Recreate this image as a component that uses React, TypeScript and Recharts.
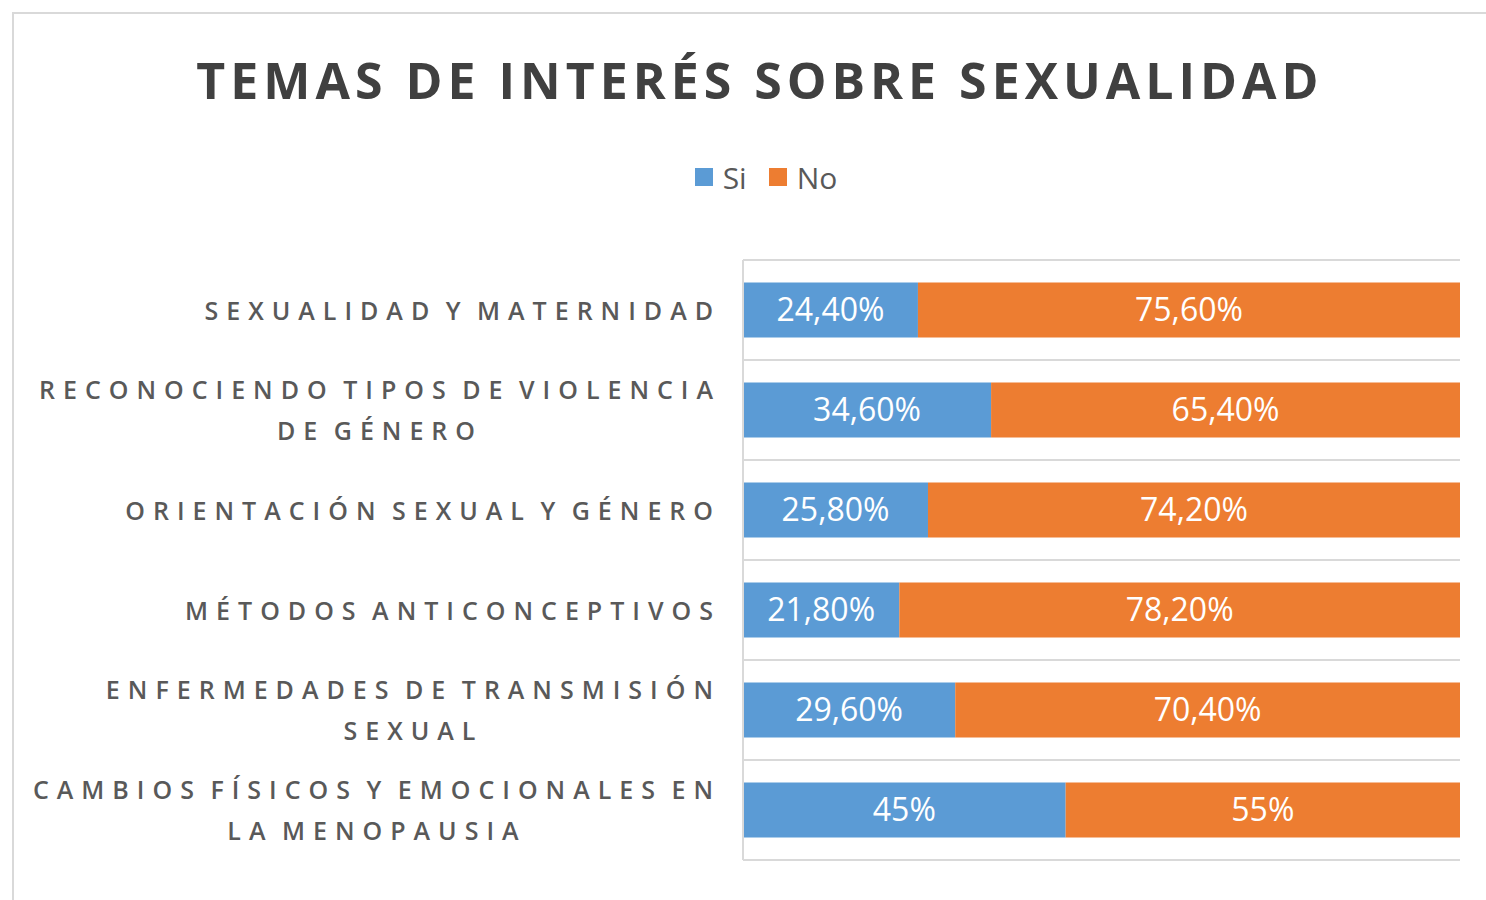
import React from "react"
import { BarChart, Bar, XAxis, YAxis, CartesianGrid, LabelList } from "recharts"

const categories = [
    "SEXUALIDAD Y MATERNIDAD",
    "RECONOCIENDO TIPOS DE VIOLENCIA DE GÉNERO",
    "ORIENTACIÓN SEXUAL Y GÉNERO",
    "MÉTODOS ANTICONCEPTIVOS",
    "ENFERMEDADES DE TRANSMISIÓN SEXUAL",
    "CAMBIOS FÍSICOS Y EMOCIONALES EN LA MENOPAUSIA",
]
const siValues = [24.4, 34.6, 25.8, 21.8, 29.6, 45]
const noValues = [75.6, 65.4, 74.2, 78.2, 70.4, 55]
const seriesNames = ["Si", "No"]

const BLUE = "#5B9BD5"
const ORANGE = "#ED7D31"
const FONT = "'Open Sans', sans-serif"

const data = categories.map((name, i) => ({ name, si: siValues[i], no: noValues[i] }))

// Excel-style percent: "24,40%" but "45%" for whole numbers
const formatPct = (v: number) =>
    Number.isInteger(v) ? `${v}%` : `${v.toFixed(2).replace(".", ",")}%`

function wrapLabel(text: string, maxChars: number) {
    const words = text.split(" ")
    const lines: string[] = []
    let cur = ""
    for (const w of words) {
        const next = cur ? `${cur} ${w}` : w
        if (next.length > maxChars && cur) {
            lines.push(cur)
            cur = w
        } else {
            cur = next
        }
    }
    if (cur) lines.push(cur)
    return lines
}

const CategoryTick = (props: any) => {
    const { x, y, payload } = props
    const lines = wrapLabel(payload.value, 32)
    return (
        <foreignObject x={x - 734} y={y - 50} width={720} height={100}>
            <div style={{ display: "flex", justifyContent: "flex-end", alignItems: "center", height: "100%" }}>
                <div
                    style={{
                        textAlign: "center",
                        fontFamily: FONT,
                        fontWeight: 600,
                        fontSize: 25,
                        letterSpacing: 8,
                        wordSpacing: -6,
                        lineHeight: "41px",
                        color: "#595959",
                        whiteSpace: "nowrap",
                    }}
                >
                    {lines.map((l, i) => <div key={i}>{l}</div>)}
                </div>
            </div>
        </foreignObject>
    )
}

const LegendBox = () => (
    <div
        style={{
            position: "absolute",
            left: 0,
            top: 155,
            width: 1532,
            height: 44,
            display: "flex",
            justifyContent: "center",
            alignItems: "center",
            gap: 22,
            fontFamily: FONT,
            fontSize: 30,
            color: "#595959",
        }}
    >
        {seriesNames.map((n, i) => (
            <div key={n} style={{ display: "flex", alignItems: "center", gap: 10 }}>
                <span style={{ width: 18, height: 18, background: i === 0 ? BLUE : ORANGE, display: "inline-block" }} />
                <span>{n}</span>
            </div>
        ))}
    </div>
)

export default function App() {
    const n = categories.length
    return (
        <div style={{ position: "absolute", left: 0, top: 0, width: 1486, height: 900, overflow: "hidden", background: "#fff" }}>
            <div style={{ position: "absolute", left: 12, top: 12, width: 1500, height: 900, borderLeft: "2px solid #d9d9d9", borderTop: "2px solid #d9d9d9" }} />
            <div
                style={{
                    position: "absolute",
                    left: 0,
                    top: 48,
                    width: 1520,
                    height: 64,
                    lineHeight: "64px",
                    textAlign: "center",
                    fontFamily: FONT,
                    fontWeight: 700,
                    fontSize: 50,
                    letterSpacing: 5,
                    color: "#404040",
                }}
            >
                TEMAS DE INTERÉS SOBRE SEXUALIDAD
            </div>
            <LegendBox />
            <BarChart
                width={1486}
                height={900}
                data={data}
                layout="vertical"
                margin={{ top: 260, right: 26, bottom: 40, left: 23 }}
                barCategoryGap="22.5%"
                style={{ position: "absolute", left: 0, top: 0 }}
            >
                <CartesianGrid
                    vertical={false}
                    stroke="#d9d9d9"
                    strokeWidth={2}
                    horizontalCoordinatesGenerator={({ offset }: any) =>
                        Array.from({ length: n + 1 }, (_, i) => offset.top + (i * offset.height) / n)
                    }
                />
                <XAxis type="number" domain={[0, 100]} hide />
                <YAxis
                    type="category"
                    dataKey="name"
                    width={720}
                    axisLine={{ stroke: "#d9d9d9", strokeWidth: 2 }}
                    tickLine={false}
                    tick={<CategoryTick />}
                    interval={0}
                />
                <Bar dataKey="si" name="Si" stackId="a" fill={BLUE} isAnimationActive={false}>
                    <LabelList dataKey="si" position="center" formatter={(v: any) => formatPct(Number(v))} fill="#fff" style={{ fontFamily: FONT, fontSize: 32 }} />
                </Bar>
                <Bar dataKey="no" name="No" stackId="a" fill={ORANGE} isAnimationActive={false}>
                    <LabelList dataKey="no" position="center" formatter={(v: any) => formatPct(Number(v))} fill="#fff" style={{ fontFamily: FONT, fontSize: 32 }} />
                </Bar>
            </BarChart>
        </div>
    )
}
